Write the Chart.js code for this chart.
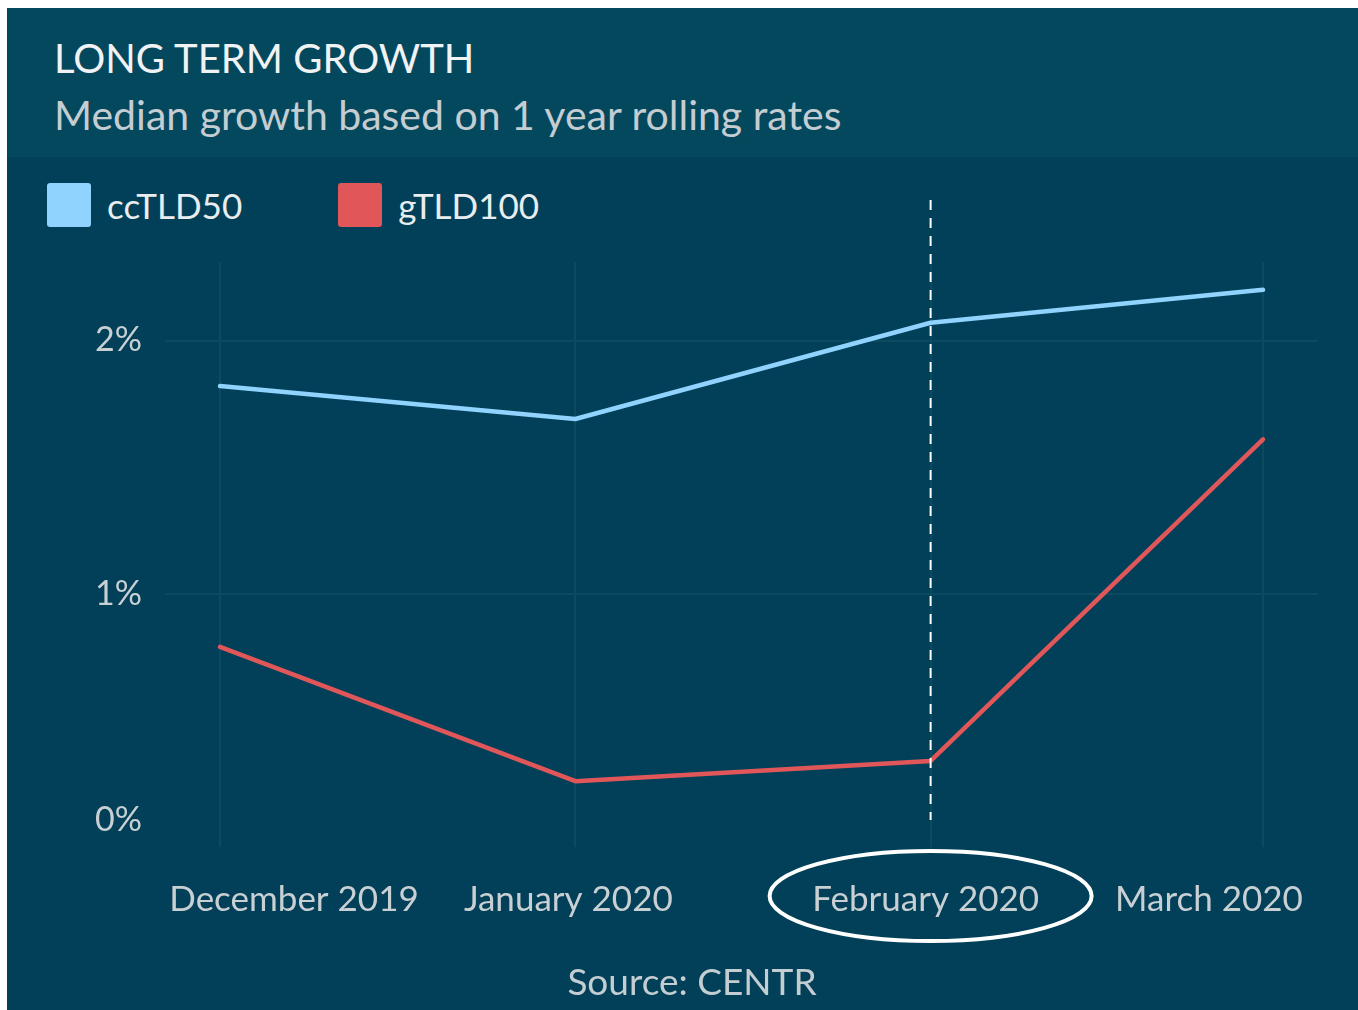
<!DOCTYPE html>
<html lang="en">
<head>
  <meta charset="UTF-8">
  <title>Long term growth</title>
  <script src="https://cdn.jsdelivr.net/npm/chart.js"></script>
  <style>
    body { margin: 0; background: #fff; font-family: Lato, sans-serif; }
    .panel {
      position: absolute; left: 7px; top: 8px;
      width: 1351px; height: 1002px;
      background: #014058;
      overflow: hidden;
    }
    .head { position: absolute; left: 0; top: 0; width: 100%; height: 149px; background: #04485e; }
    .title { position: absolute; left: 47px; top: 26px; font-size: 40px; color: #f0f2f3; white-space: nowrap; }
    .sub { position: absolute; left: 47px; top: 82px; font-size: 41px; color: #c4cdd1; white-space: nowrap; }
    .legend { position: absolute; left: 40px; top: 175px; display: flex; align-items: center; }
    .legend .item { display: flex; align-items: center; margin-right: 96px; }
    .legend .box { width: 44px; height: 44px; border-radius: 3px; margin-right: 16px; }
    .legend .lbl { font-size: 35px; color: #e9edef; }
    .source { position: absolute; left: 685px; top: 950px; transform: translateX(-50%); font-size: 37px; color: #c4cdd1; white-space: nowrap; }
    canvas { position: absolute; left: 0; top: 149px; }
  </style>
</head>
<body>
  <div class="panel">
    <div class="head">
      <div class="title">LONG TERM GROWTH</div>
      <div class="sub">Median growth based on 1 year rolling rates</div>
    </div>
    <div class="legend" id="legend"></div>
    <canvas id="chart" width="1351" height="853"></canvas>
    <div class="source">Source: CENTR</div>
  </div>

  <script>
    // data (percent)
    const months = ['December 2019', 'January 2020', 'February 2020', 'March 2020'];
    const monthStarts = ['2019-12-01', '2020-01-01', '2020-02-01', '2020-03-01'];
    const ccTLD50 = [1.82, 1.69, 2.07, 2.20];
    const gTLD100 = [0.79, 0.26, 0.34, 1.61];
    const yTicks = [0, 1, 2];
    const highlightMonth = 'February 2020';

    // days since first month, so the x axis keeps real month lengths
    const days = monthStarts.map(d => (Date.parse(d) - Date.parse(monthStarts[0])) / 86400000);

    const series = [
      { label: 'ccTLD50', values: ccTLD50, color: '#8fd3fe' },
      { label: 'gTLD100', values: gTLD100, color: '#e15759' }
    ];

    // legend
    const legend = document.getElementById('legend');
    series.forEach(s => {
      const item = document.createElement('div');
      item.className = 'item';
      item.innerHTML = `<div class="box" style="background:${s.color}"></div><div class="lbl">${s.label}</div>`;
      legend.appendChild(item);
    });

    const gridColor = '#0b4a5f';
    const labelColor = '#c9d0d4';
    const labelShift = [74, -7, -5, -54];

    const overlay = {
      id: 'overlay',
      afterDraw(chart) {
        const { ctx, chartArea, scales: { x } } = chart;
        const px = x.getPixelForValue(days[months.indexOf(highlightMonth)]);
        ctx.save();
        // dashed marker
        ctx.strokeStyle = '#ffffff';
        ctx.lineWidth = 2;
        ctx.setLineDash([10, 8]);
        ctx.beginPath();
        ctx.moveTo(px, 43);
        ctx.lineTo(px, chartArea.bottom - 27);
        ctx.stroke();
        ctx.setLineDash([]);
        // month labels
        ctx.font = '35px Lato';
        ctx.fillStyle = labelColor;
        ctx.textAlign = 'center';
        ctx.textBaseline = 'middle';
        months.forEach((m, i) => {
          ctx.fillText(m, x.getPixelForValue(days[i]) + labelShift[i], chartArea.bottom + 53);
        });
        // ring round the highlighted month
        ctx.lineWidth = 4;
        ctx.beginPath();
        ctx.ellipse(px, chartArea.bottom + 49, 161, 45, 0, 0, Math.PI * 2);
        ctx.stroke();
        ctx.restore();
      }
    };

    new Chart(document.getElementById('chart').getContext('2d'), {
      type: 'line',
      data: {
        datasets: series.map(s => ({
          label: s.label,
          data: s.values.map((v, i) => ({ x: days[i], y: v })),
          borderColor: s.color,
          borderWidth: 4.5,
          borderCapStyle: 'round',
          borderJoinStyle: 'round',
          pointRadius: 0,
          tension: 0
        }))
      },
      options: {
        responsive: false,
        animation: false,
        devicePixelRatio: 1,
        layout: { padding: { top: 105, right: 40, left: 0, bottom: 0 } },
        scales: {
          x: {
            type: 'linear',
            min: -4.8,
            max: 95.8,
            afterBuildTicks: s => { s.ticks = days.map(v => ({ value: v })); },
            afterFit: s => { s.height = 163; },
            ticks: { display: false },
            border: { display: false },
            grid: { color: gridColor, lineWidth: 2, drawTicks: false }
          },
          y: {
            min: 0,
            max: 2.31,
            afterBuildTicks: s => { s.ticks = yTicks.map(v => ({ value: v })); },
            afterFit: s => { s.width = 158; },
            border: { display: false },
            grid: {
              color: c => (c.tick && c.tick.value === 0 ? 'rgba(0,0,0,0)' : gridColor),
              lineWidth: 2,
              drawTicks: false
            },
            ticks: {
              padding: 23,
              color: labelColor,
              // the 0% label sits a bit above the baseline
              callback: v => (v === 0 ? ['0%', ''] : v + '%'),
              font: c => ({ family: 'Lato', size: 34, lineHeight: c.tick && c.tick.value === 0 ? '54px' : 1.2 })
            }
          }
        },
        plugins: { legend: { display: false }, tooltip: { enabled: false } }
      },
      plugins: [overlay]
    });
  </script>
</body>
</html>
